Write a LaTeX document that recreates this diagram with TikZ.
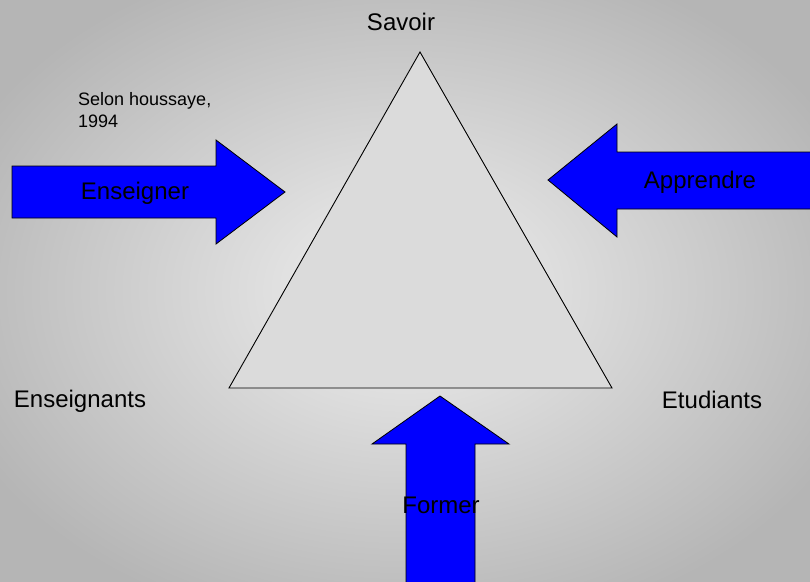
\documentclass[tikz,border=0pt]{standalone}
\usepackage{fontspec}
\setmainfont{Liberation Sans}

\tikzset{
    bloc/.style={fill=blue, draw=black, line width=0.8pt, line join=miter},
    pole/.style={font=\fontsize{24}{28}\selectfont, text=black, inner sep=0pt},
    note/.style={font=\fontsize{18}{22}\selectfont, text=black, inner sep=0pt, align=left}
}

\begin{document}
\begin{tikzpicture}[x=1pt, y=-1pt]
    \useasboundingbox (0,0) rectangle (810,581);
    \clip (0,0) rectangle (810,581);
    \shade[inner color=gray!12, outer color=gray!58] (-80,-60) rectangle (890,641);

    % triangle
    \draw[fill=gray!28, line width=0.9pt] (420,52) -- (612,388) -- (229,388) -- cycle;

    % fleches
    \draw[bloc] (12,166) -- (216,166) -- (216,140) -- (285,192) -- (216,244) -- (216,218) -- (12,218) -- cycle;
    \draw[bloc] (815,152) -- (617,152) -- (617,124) -- (548,180) -- (617,237) -- (617,209) -- (815,209);
    \draw[bloc] (406,590) -- (406,444) -- (372,444) -- (440,396) -- (509,444) -- (475,444) -- (475,590);

    \node[pole] (savoir) at (401,22) {Savoir};
    \node[pole] (enseignants) at (80,401) {Enseignants};
    \node[pole] (etudiants) at (712,400) {Etudiants};
    \node[pole] (enseigner) at (135,193) {Enseigner};
    \node[pole] (apprendre) at (700,182) {Apprendre};
    \node[pole] (former) at (441,505) {Former};
    \node[note, anchor=north west] (source) at (78,92) {Selon houssaye,\\1994};
\end{tikzpicture}
\end{document}
